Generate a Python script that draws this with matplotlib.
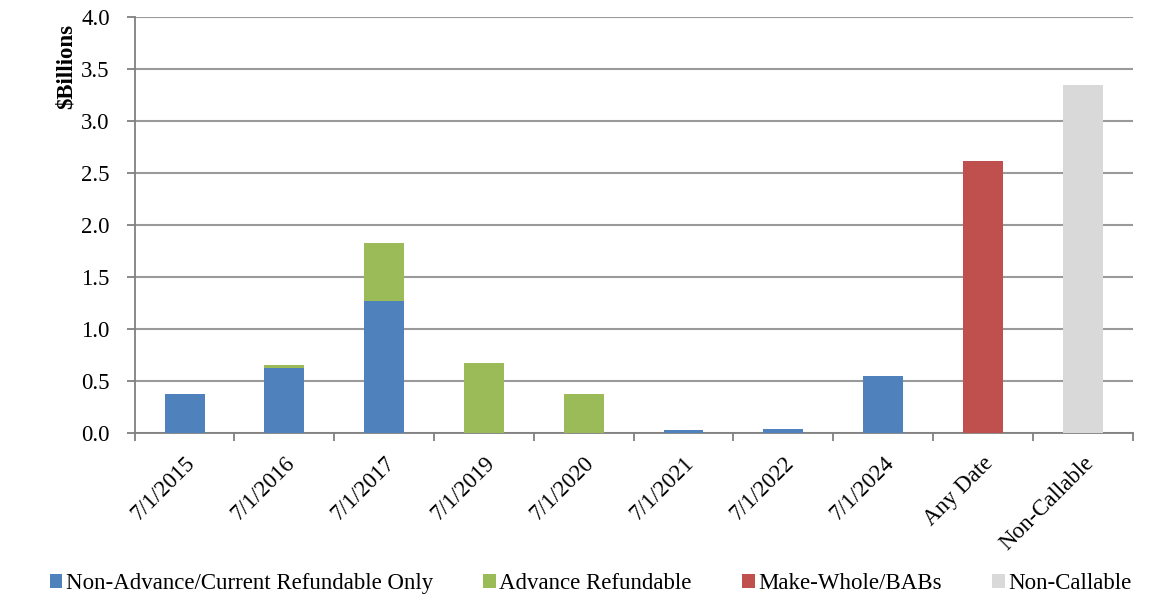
import numpy as np
import matplotlib.pyplot as plt

plt.rcParams['font.family'] = ['Liberation Serif', 'DejaVu Serif']

categories = ['7/1/2015', '7/1/2016', '7/1/2017', '7/1/2019', '7/1/2020',
              '7/1/2021', '7/1/2022', '7/1/2024', 'Any Date', 'Non-Callable']
current_only = [0.38, 0.63, 1.27, 0, 0, 0.03, 0.04, 0.55, 0, 0]
advance = [0, 0.03, 0.56, 0.68, 0.38, 0, 0, 0, 0, 0]
make_whole = [0, 0, 0, 0, 0, 0, 0, 0, 2.62, 0]
non_callable = [0, 0, 0, 0, 0, 0, 0, 0, 0, 3.35]

fig = plt.figure(figsize=(11.51, 6.06), dpi=100)
ax = fig.add_axes([0.117, 0.285, 0.867, 0.687])

x = np.arange(len(categories))
w = 0.4
b1 = np.array(current_only)
b2 = b1 + np.array(advance)
b3 = b2 + np.array(make_whole)
ax.bar(x, current_only, w, color='#4f81bd', label='Non-Advance/Current Refundable Only', zorder=3)
ax.bar(x, advance, w, bottom=b1, color='#9bbb59', label='Advance Refundable', zorder=3)
ax.bar(x, make_whole, w, bottom=b2, color='#c0504d', label='Make-Whole/BABs', zorder=3)
ax.bar(x, non_callable, w, bottom=b3, color='#d9d9d9', label='Non-Callable', zorder=3)

ax.set_xlim(-0.5, len(categories) - 0.5)
ax.set_ylim(0, 4.0)
ax.set_yticks(np.arange(0, 4.01, 0.5))
ax.set_yticklabels(['%.1f' % v for v in np.arange(0, 4.01, 0.5)], fontsize=16.5)
ax.yaxis.grid(True, color='#9a9a9a', linewidth=1.5, zorder=0)
ax.set_axisbelow(True)

ax.set_xticks(x)
ax.set_xticklabels(categories, rotation=45, ha='right', rotation_mode='anchor', fontsize=16.5)
ax.tick_params(axis='x', length=0, pad=14)
ax.set_xticks(np.arange(-0.5, len(categories), 1), minor=True)
ax.tick_params(axis='x', which='minor', length=6, color='#808080', width=1.3)
ax.tick_params(axis='y', length=6, color='#808080', width=1.3, pad=12)

for s in ['top', 'right']:
    ax.spines[s].set_visible(False)
for s in ['left', 'bottom']:
    ax.spines[s].set_color('#808080')
    ax.spines[s].set_linewidth(1.3)

ax.set_ylabel('$Billions', fontsize=16.5, fontweight='bold')
ax.yaxis.set_label_coords(-0.058, 0.88)

fig.legend(loc='lower center', bbox_to_anchor=(0.513, -0.014), ncol=4, frameon=False,
           fontsize=16.5, handlelength=0.55, handleheight=0.55, handletextpad=0.15,
           columnspacing=2.2)

fig.savefig('out.png', dpi=100)
